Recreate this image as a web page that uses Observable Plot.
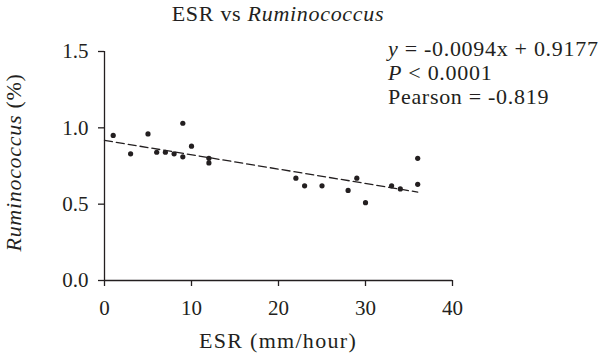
<!DOCTYPE html>
<html>
<head>
<meta charset="utf-8">
<script src="https://cdn.jsdelivr.net/npm/d3@7"></script>
<script src="https://cdn.jsdelivr.net/npm/@observablehq/plot@0.6"></script>
<style>
  body { margin: 0; background: #fff; }
  #chart svg { display: block; }
</style>
</head>
<body>
<div id="chart"></div>
<script>
// Data
const esr = [1, 3, 5, 6, 7, 8, 9, 9, 10, 12, 12, 22, 23, 25, 28, 29, 30, 33, 34, 36, 36];
const ruminococcus = [0.95, 0.83, 0.96, 0.84, 0.84, 0.83, 1.03, 0.81, 0.88, 0.80, 0.77, 0.67, 0.62, 0.62, 0.59, 0.67, 0.51, 0.62, 0.60, 0.80, 0.63];
const slope = -0.0094;
const intercept = 0.9177;
const fitRange = [0, 36];
const xTicks = [0, 10, 20, 30, 40];
const yTicks = [0.0, 0.5, 1.0, 1.5];
const title = ["ESR vs ", "Ruminococcus"];
const xLabel = "ESR (mm/hour)";
const yLabel = ["Ruminococcus", " (%)"];
const stats = ["y = -0.0094x + 0.9177", "P < 0.0001", "Pearson = -0.819"];

const points = esr.map((x, i) => ({x, y: ruminococcus[i]}));
const fit = fitRange.map(x => ({x, y: intercept + slope * x}));

const FONT = "Liberation Serif, Times New Roman, serif";
const INK = "#231f20";
const FS = 21;
const TFS = 22;
const LS = "0.7px";

const plot = Plot.plot({
  width: 600,
  height: 361,
  marginLeft: 104,
  marginRight: 148,
  marginTop: 51,
  marginBottom: 81,
  style: {fontFamily: FONT, fontSize: FS + "px", color: INK, background: "#fff"},
  x: {domain: [0, 40]},
  y: {domain: [0, 1.5]},
  marks: [
    Plot.axisX({ticks: xTicks, tickSize: 6, tickPadding: 14, label: null, stroke: INK, strokeWidth: 1.3, fill: INK}),
    Plot.axisY({ticks: yTicks, tickSize: 6, tickPadding: 10, label: null, tickFormat: d3.format(".1f"), stroke: INK, strokeWidth: 1.3, fill: INK}),
    Plot.ruleY([0], {stroke: INK, strokeWidth: 1.3}),
    Plot.ruleX([0], {stroke: INK, strokeWidth: 1.3}),
    Plot.line(fit, {x: "x", y: "y", stroke: INK, strokeWidth: 1.3, strokeDasharray: "8,4"}),
    Plot.dot(points, {x: "x", y: "y", r: 2.6, fill: INK, stroke: "none"})
  ]
});

document.getElementById("chart").appendChild(plot);

// Mixed-style texts (italic parts) added as real SVG text
const svg = d3.select(plot);
const xs = plot.scale("x"), ys = plot.scale("y");
const cx = (xs.apply(0) + xs.apply(40)) / 2;
const cy = (ys.apply(0) + ys.apply(1.5)) / 2;

const t = svg.append("text").attr("x", cx).attr("y", 21).attr("text-anchor", "middle")
  .attr("font-family", FONT).attr("font-size", TFS).attr("letter-spacing", LS).attr("fill", INK);
t.append("tspan").text(title[0]);
t.append("tspan").attr("font-style", "italic").text(title[1]);

svg.append("text").attr("x", cx).attr("y", 348).attr("text-anchor", "middle")
  .attr("font-family", FONT).attr("font-size", TFS).attr("letter-spacing", "1.3px").attr("fill", INK).text(xLabel);

const yl = svg.append("text").attr("transform", `translate(21,${cy - 3}) rotate(-90)`).attr("text-anchor", "middle")
  .attr("font-family", FONT).attr("font-size", TFS).attr("letter-spacing", LS).attr("fill", INK);
yl.append("tspan").attr("font-style", "italic").text(yLabel[0]);
yl.append("tspan").text(yLabel[1]);

const st = svg.append("g").attr("font-family", FONT).attr("font-size", TFS).attr("letter-spacing", LS)
  .attr("fill", INK).attr("text-anchor", "start");
const l1 = st.append("text").attr("x", 388).attr("y", 56);
l1.append("tspan").attr("font-style", "italic").text(stats[0].slice(0, 1));
l1.append("tspan").text(stats[0].slice(1));
const l2 = st.append("text").attr("x", 388).attr("y", 80);
l2.append("tspan").attr("font-style", "italic").text(stats[1].slice(0, 1));
l2.append("tspan").text(stats[1].slice(1));
st.append("text").attr("x", 388).attr("y", 104).text(stats[2]);
</script>
</body>
</html>
